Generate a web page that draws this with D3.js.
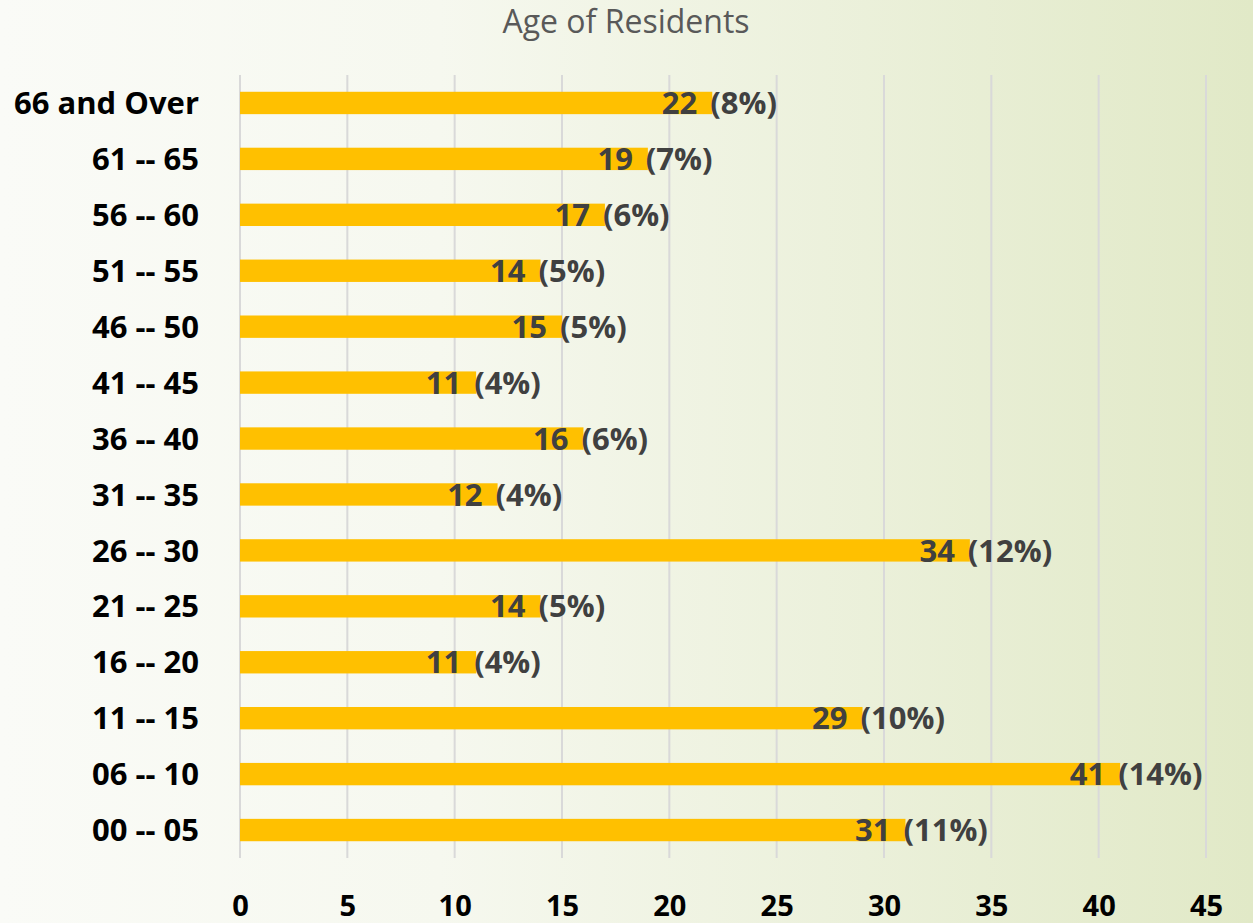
<!DOCTYPE html>
<html>
<head>
<meta charset="utf-8">
<script src="https://cdn.jsdelivr.net/npm/d3@7"></script>
<style>
  html, body { margin: 0; padding: 0; }
  body { width: 1253px; height: 923px; overflow: hidden; }
  svg { display: block; font-family: "Open Sans", "Noto Sans", sans-serif; }
</style>
</head>
<body>
<div id="chart"></div>
<script>
// data, top row first
var ageGroups = ["66 and Over", "61 -- 65", "56 -- 60", "51 -- 55", "46 -- 50", "41 -- 45",
                 "36 -- 40", "31 -- 35", "26 -- 30", "21 -- 25", "16 -- 20", "11 -- 15",
                 "06 -- 10", "00 -- 05"];
var residents = [22, 19, 17, 14, 15, 11, 16, 12, 34, 14, 11, 29, 41, 31];
var shares = ["8%", "7%", "6%", "5%", "5%", "4%", "6%", "4%", "12%", "5%", "4%", "10%", "14%", "11%"];
var xTicks = [0, 5, 10, 15, 20, 25, 30, 35, 40, 45];
var chartTitle = "Age of Residents";

var width = 1253, height = 923;
var margin = { top: 75, right: 47, bottom: 65, left: 240 };

var data = ageGroups.map(function(g, i) {
    return { group: g, value: residents[i], pct: shares[i] };
});

var svg = d3.select("#chart").append("svg")
    .attr("width", width)
    .attr("height", height);

// background gradient
var defs = svg.append("defs");
var grad = defs.append("linearGradient")
    .attr("id", "bg")
    .attr("x1", "0").attr("y1", "0.5")
    .attr("x2", "1").attr("y2", "0.5");
grad.append("stop").attr("offset", "0").attr("stop-color", "#fafbf7");
grad.append("stop").attr("offset", "0.35").attr("stop-color", "#f6f8ef");
grad.append("stop").attr("offset", "1").attr("stop-color", "#e1e9c7");
svg.append("rect").attr("width", width).attr("height", height).attr("fill", "url(#bg)");

var xScale = d3.scaleLinear()
    .domain([0, 45])
    .range([margin.left, width - margin.right]);
var yScale = d3.scaleBand()
    .domain(ageGroups)
    .range([margin.top, height - margin.bottom])
    .paddingInner(0.6)
    .paddingOuter(0.3);

// title
svg.append("text")
    .attr("x", 626).attr("y", 33)
    .attr("text-anchor", "middle")
    .style("font-size", "32px")
    .style("fill", "#595959")
    .text(chartTitle);

// gridlines
svg.append("g").selectAll("line")
    .data(xTicks).enter().append("line")
    .attr("x1", d => xScale(d)).attr("x2", d => xScale(d))
    .attr("y1", margin.top).attr("y2", height - margin.bottom)
    .attr("stroke", "#d9d9d9")
    .attr("stroke-width", 2);

// x axis labels
var xAxis = d3.axisBottom(xScale).tickValues(xTicks).tickSize(0).tickPadding(0);
var xg = svg.append("g")
    .attr("transform", "translate(0," + (height - margin.bottom) + ")")
    .call(xAxis);
xg.select(".domain").remove();
xg.selectAll("text")
    .attr("y", 58).attr("dy", null)
    .style("font-size", "29px")
    .style("font-weight", "bold")
    .style("font-family", "\"Open Sans\", sans-serif")
    .style("fill", "#000");

// y axis labels
var yAxis = d3.axisLeft(yScale).tickSize(0).tickPadding(0);
var yg = svg.append("g")
    .attr("transform", "translate(" + (margin.left - 41) + ",0)")
    .call(yAxis);
yg.select(".domain").remove();
yg.selectAll("text")
    .attr("dy", "0.36em")
    .style("font-size", "31px")
    .style("font-weight", "bold")
    .style("font-family", "\"Open Sans\", sans-serif")
    .style("fill", "#000");

// bars
svg.append("g").selectAll("rect")
    .data(data).enter().append("rect")
    .attr("x", xScale(0))
    .attr("y", d => yScale(d.group))
    .attr("width", d => xScale(d.value) - xScale(0))
    .attr("height", yScale.bandwidth())
    .attr("fill", "#ffc000");

// value labels
var labels = svg.append("g")
    .style("font-size", "31px")
    .style("font-weight", "bold")
    .style("fill", "#404040");
labels.selectAll(".val")
    .data(data).enter().append("text")
    .attr("class", "val")
    .attr("x", d => xScale(d.value) - 15)
    .attr("y", d => yScale(d.group) + yScale.bandwidth() / 2)
    .attr("dy", "0.36em")
    .attr("text-anchor", "end")
    .text(d => d.value);
labels.selectAll(".pct")
    .data(data).enter().append("text")
    .attr("class", "pct")
    .attr("x", d => xScale(d.value) - 2)
    .attr("y", d => yScale(d.group) + yScale.bandwidth() / 2)
    .attr("dy", "0.36em")
    .text(d => "(" + d.pct + ")");
</script>
</body>
</html>
